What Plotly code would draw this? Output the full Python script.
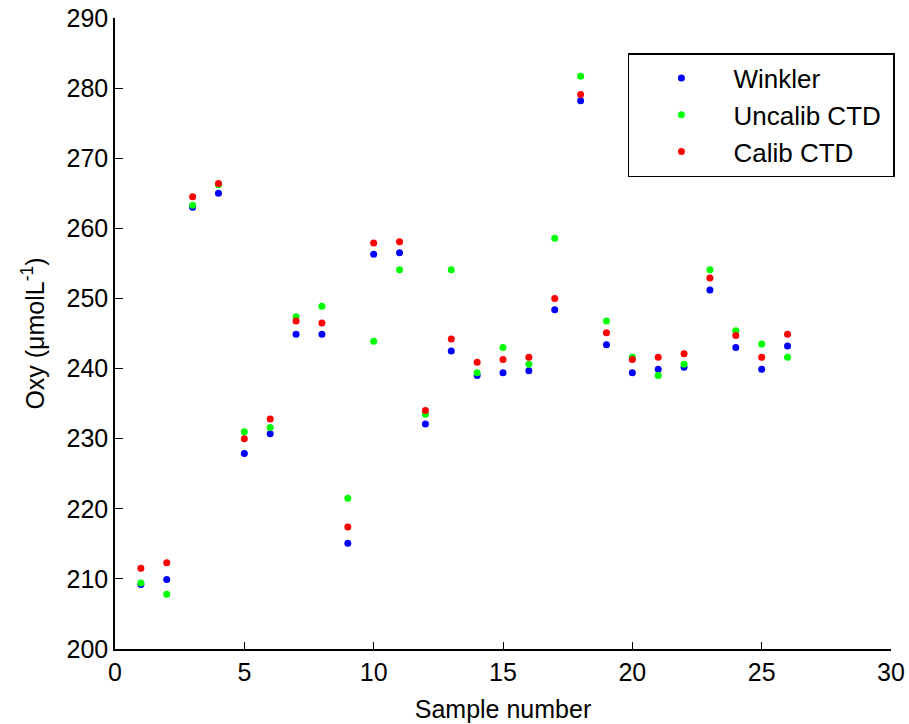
import plotly.graph_objects as go

sample = list(range(1, 27))
winkler = [209.2, 209.9, 263.0, 265.0, 227.9, 230.7, 244.9, 244.9, 215.1, 256.3,
           256.5, 232.1, 242.5, 239.0, 239.4, 239.7, 248.4, 278.2, 243.4, 239.4,
           239.9, 240.2, 251.2, 243.0, 239.9, 243.2]
uncalib = [209.4, 207.8, 263.3, 266.2, 231.0, 231.6, 247.4, 248.9, 221.5, 243.9,
           254.1, 233.5, 254.1, 239.4, 243.0, 240.6, 258.6, 281.7, 246.8, 241.6,
           239.0, 240.6, 254.1, 245.4, 243.5, 241.6]
calib = [211.5, 212.3, 264.5, 266.4, 230.0, 232.8, 246.8, 246.5, 217.4, 257.9,
         258.1, 234.0, 244.2, 240.9, 241.3, 241.6, 250.0, 279.1, 245.1, 241.3,
         241.6, 242.1, 252.9, 244.7, 241.6, 244.9]

series = [("Winkler", winkler, "#0000FF"),
          ("Uncalib CTD\u00a0", uncalib, "#00FF00"),
          ("Calib CTD", calib, "#FF0000")]

font = "Liberation Sans, Arial, sans-serif"
fs = 25
fig = go.Figure()
for name, vals, col in series:
    fig.add_trace(go.Scatter(x=sample, y=vals, mode="markers", name=name,
                             marker=dict(color=col, size=7, line=dict(width=0))))

fig.update_layout(
    width=909, height=724,
    paper_bgcolor="white", plot_bgcolor="white",
    margin=dict(l=115, r=18, t=18, b=75),
    font=dict(family=font, size=fs, color="black"),
    showlegend=True,
    legend=dict(x=0.661, y=0.9445, xanchor="left", yanchor="top",
                bordercolor="black", borderwidth=1.5, bgcolor="white",
                font=dict(size=26, family=font), itemwidth=94,
                tracegroupgap=0),
    xaxis=dict(range=[0, 30], tickvals=[0, 5, 10, 15, 20, 25, 30],
               showgrid=False, zeroline=False, showline=True,
               linecolor="black", linewidth=1.5, ticks="inside", ticklen=7,
               tickcolor="black", mirror=False, automargin=False,
               ticklabeloverflow="allow",
               title=dict(text="Sample number", standoff=16,
                          font=dict(size=fs, family=font)),
               tickfont=dict(size=fs, family=font)),
    yaxis=dict(range=[200, 290], tickvals=list(range(200, 291, 10)),
               showgrid=False, zeroline=False, showline=True,
               linecolor="black", linewidth=1.5, ticks="inside", ticklen=8,
               tickcolor="black", mirror=False, automargin=False,
               ticklabeloverflow="allow",
               title=dict(text="Oxy (\u03bcmolL<sup>-1</sup>)", standoff=15,
                          font=dict(size=fs, family=font)),
               tickfont=dict(size=fs, family=font)),
)

fig.write_html("out.html",
               config={"displayModeBar": False},
               post_script="document.body.style.margin='0px';document.body.style.overflow='hidden';")
